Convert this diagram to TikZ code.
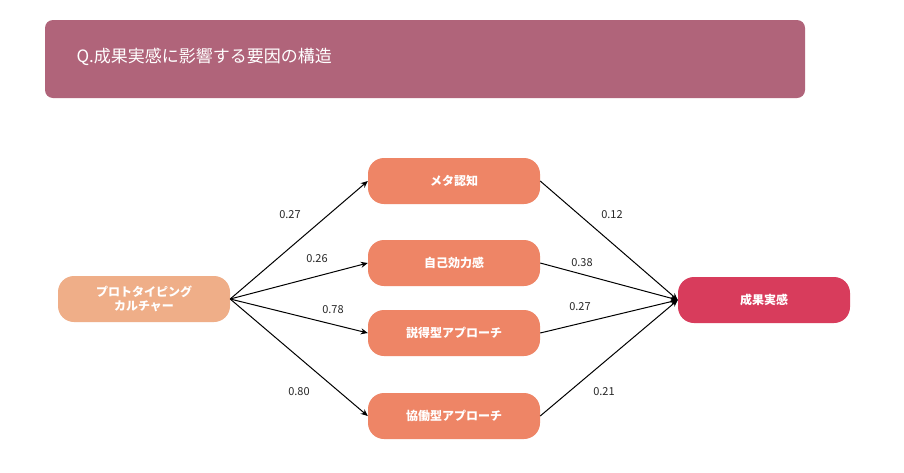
\documentclass[tikz,border=0pt]{standalone}
\usepackage{fontspec}
\setmainfont{Noto Sans CJK JP}
\usetikzlibrary{arrows.meta}
\definecolor{banner}{HTML}{B0647A}
\definecolor{srcc}{HTML}{EFAE88}
\definecolor{midc}{HTML}{EE8566}
\definecolor{tgtc}{HTML}{D83C5C}
\tikzset{
 box/.style={rounded corners=16pt,minimum width=172pt,minimum height=46pt,text=white,font=\fontsize{12}{14}\selectfont\bfseries,align=center,inner sep=0pt},
 conn/.style={-{Stealth[length=7pt,width=6pt]},line width=1pt,black},
 lab/.style={font=\fontsize{11}{13}\selectfont,text=black!85}
}
\begin{document}
\begin{tikzpicture}[x=1pt,y=-1pt]
\useasboundingbox[fill=white](0,0) rectangle (904,472);
\node[fill=banner,rounded corners=8pt,minimum width=760pt,minimum height=78pt,inner sep=0pt] (ban) at (425,59) {};
\node[anchor=west,text=white,font=\fontsize{17}{20}\selectfont] (title) at (73,57) {Q.成果実感に影響する要因の構造};
\node[box,fill=srcc] (src) at (144,299) {プロトタイピング\\カルチャー};
\node[box,fill=midc] (m1) at (454,181) {メタ認知};
\node[box,fill=midc] (m2) at (454,263) {自己効力感};
\node[box,fill=midc] (m3) at (454,333) {説得型アプローチ};
\node[box,fill=midc] (m4) at (454,416) {協働型アプローチ};
\node[box,fill=tgtc] (tgt) at (764,300) {成果実感};
\foreach \m in {m1,m2,m3,m4}{
 \draw[conn] (src.east) -- (\m.west);
 \draw[conn] (\m.east) -- (tgt.west);
}
\node[lab] (l1) at (290,215) {0.27};
\node[lab] (l2) at (317,259) {0.26};
\node[lab] (l3) at (333,310) {0.78};
\node[lab] (l4) at (299,392) {0.80};
\node[lab] (r1) at (612,215) {0.12};
\node[lab] (r2) at (582,263) {0.38};
\node[lab] (r3) at (580,307) {0.27};
\node[lab] (r4) at (604,392) {0.21};
\end{tikzpicture}
\end{document}
